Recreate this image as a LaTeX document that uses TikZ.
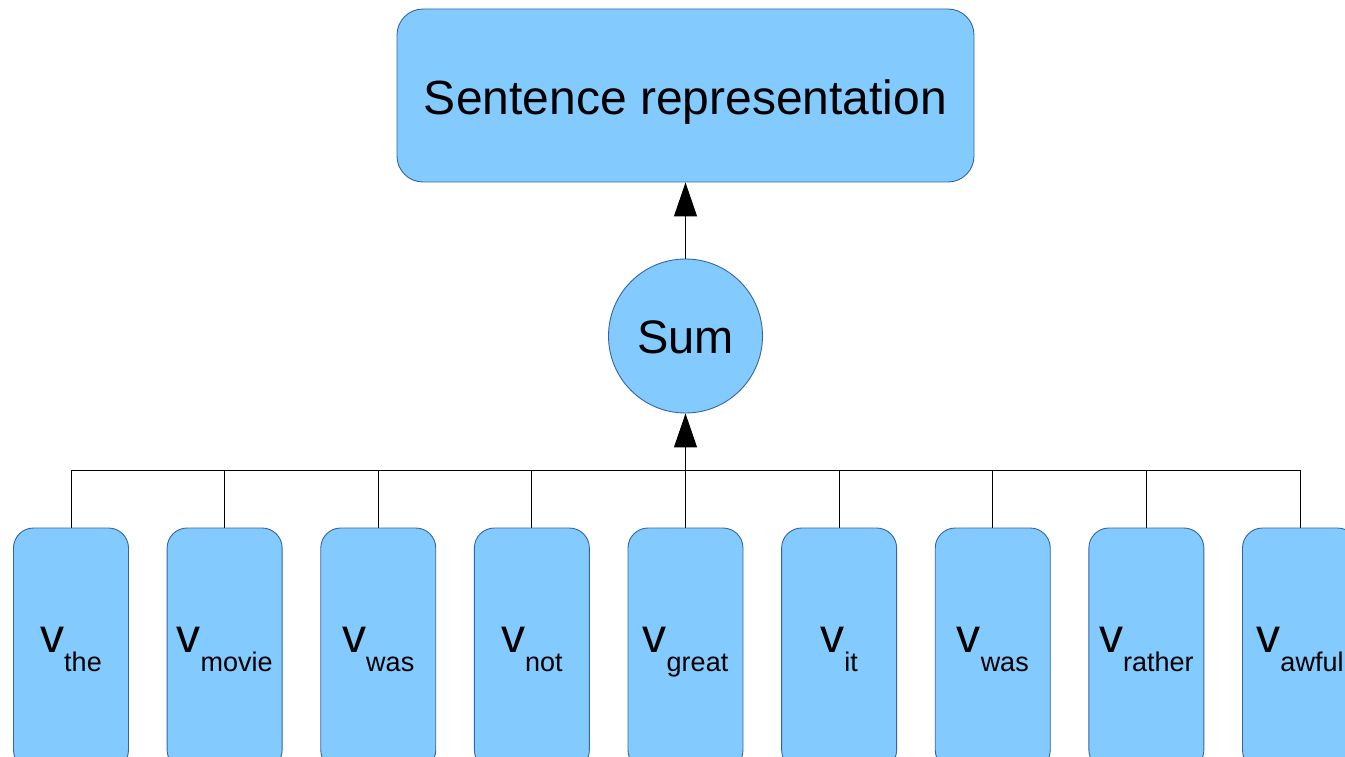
\documentclass[tikz,border=0pt]{standalone}
\usepackage{fontspec}
\setmainfont{Liberation Sans}
\usetikzlibrary{arrows.meta}
\definecolor{boxfill}{HTML}{83CAFF}
\definecolor{boxline}{HTML}{3465A4}
\tikzset{
  panel/.style={draw=boxline, fill=boxfill, line width=0.9pt, inner sep=0pt},
  wordbox/.style={panel, rounded corners=20pt, minimum width=115pt, minimum height=242pt},
  wire/.style={draw=black, line width=1pt},
  feed/.style={wire, -{Triangle[length=34pt,width=23pt]}},
  wordlabel/.style={anchor=base, inner sep=0pt}
}
\newcommand{\wordvec}[1]{{\fontsize{48}{48}\selectfont v}\raisebox{-19pt}{\fontsize{27}{27}\selectfont #1}}
\begin{document}
\begin{tikzpicture}[x=1pt,y=-1pt]
\useasboundingbox (0,0) rectangle (1345,757);

% sentence-level output
\node[panel, rounded corners=26pt, minimum width=577pt, minimum height=173pt,
      text height=39pt, text depth=0pt, font=\fontsize{48}{48}\selectfont]
  (rep) at (685.5,95.5) {Sentence representation};

% summation node
\node[panel, circle, minimum size=154pt, text height=34pt, text depth=0pt,
      font=\fontsize{47}{47}\selectfont]
  (sum) at (685.5,336) {Sum};

% word vectors
\foreach \w [count=\i from 0] in {the,movie,was,not,great,it,was,rather,awful} {
  \pgfmathsetmacro{\xc}{71+153.625*\i}
  \node[wordbox] (box\i) at (\xc,649) {};
  \node[wordlabel] (lab\i) at (\xc,652) {\wordvec{\w}};
}

% collecting bus and arrows
\coordinate (bus) at (685.5,470);
\foreach \i in {0,...,8} {
  \draw[wire] (box\i.north) |- (bus);
}
\draw[wire] (box0.north |- bus) -- (box8.north |- bus);
\draw[feed] (bus) -- (sum.south);
\draw[feed] (sum.north) -- (rep.south);
\end{tikzpicture}
\end{document}
